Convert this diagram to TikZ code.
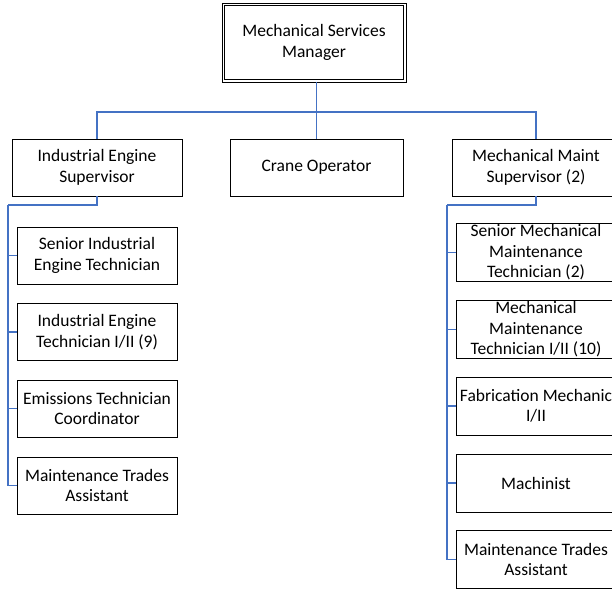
\documentclass[tikz,border=0pt]{standalone}
\usepackage{fontspec}
\setmainfont{Carlito}
\usepackage{tikz}

\tikzset{
  box/.style={draw, line width=0.9pt, align=center, inner sep=0pt,
    minimum width=160, minimum height=57,
    font=\fontsize{17.5}{20.5}\selectfont},
  link/.style={draw={rgb,255:red,68;green,114;blue,196}, line width=1.3pt}
}

\begin{document}
\begin{tikzpicture}[x=1pt, y=-1pt]
\useasboundingbox (0,0) rectangle (612,589);
\clip (0,0) rectangle (612,589);

\node [box, minimum width=184, minimum height=79] (mgr) at (314,42.5)
  {Mechanical Services\\Manager};
\draw [line width=0.9pt] ([shift={(3,3)}]mgr.north west) rectangle ([shift={(-3,-3)}]mgr.south east);

\node [box, minimum width=170] (ies) at (97,167.5) {Industrial Engine\\Supervisor};
\node [box, minimum width=173] (crane) at (316.5,167.5) {Crane Operator};
\node [box, minimum width=168] (mms) at (536,167.5) {Mechanical Maint\\Supervisor (2)};

\node [box] (ie1) at (97,255.5) {Senior Industrial\\Engine Technician};
\node [box] (ie2) at (97,332) {Industrial Engine\\Technician I/II (9)};
\node [box] (ie3) at (97,408.5) {Emissions Technician\\Coordinator};
\node [box] (ie4) at (97,485.5) {Maintenance Trades\\Assistant};

\node [box, minimum height=58] (mm1) at (536,252.5) {Senior Mechanical\\Maintenance\\Technician (2)};
\node [box, minimum height=58] (mm2) at (536,329.5) {Mechanical\\Maintenance\\Technician I/II (10)};
\node [box, minimum height=58] (mm3) at (536,406) {Fabrication Mechanic\\I/II};
\node [box, minimum height=58] (mm4) at (536,483) {Machinist};
\node [box, minimum height=58] (mm5) at (536,559.5) {Maintenance Trades\\Assistant};

\coordinate (bus) at (316.5,112);
\draw [link] (mgr.south -| bus) -- (bus);
\draw [link] (bus) -| (ies.north);
\draw [link] (bus) -- (crane.north);
\draw [link] (bus) -| (mms.north);

\coordinate (lspine) at (8,205);
\draw [link] (ies.south) |- (lspine);
\foreach \n in {ie1,ie2,ie3,ie4}
  \draw [link] (lspine) |- (\n.west);

\coordinate (rspine) at (447,205);
\draw [link] (mms.south) |- (rspine);
\foreach \n in {mm1,mm2,mm3,mm4,mm5}
  \draw [link] (rspine) |- (\n.west);
\end{tikzpicture}
\end{document}
